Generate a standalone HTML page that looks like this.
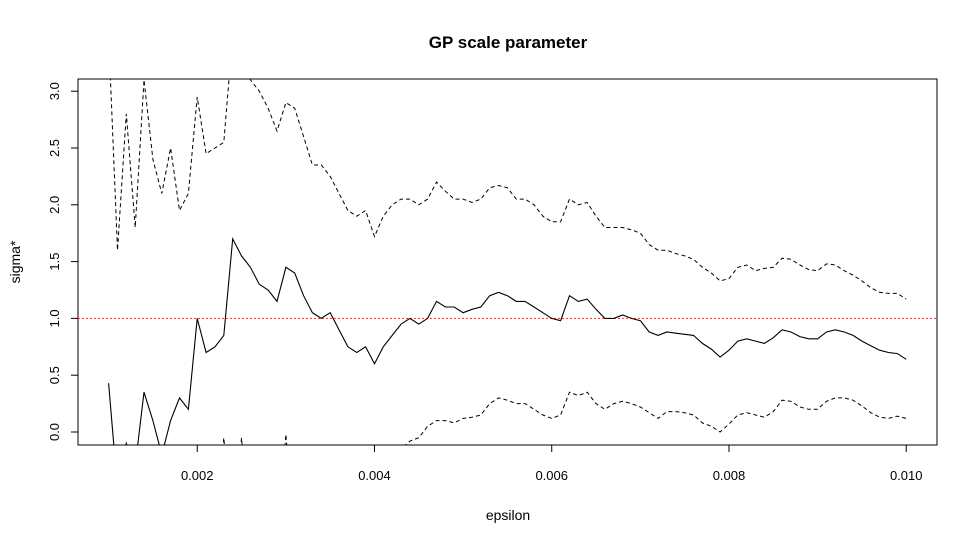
<!DOCTYPE html>
<html><head><meta charset="utf-8"><style>body{margin:0;background:#fff}svg{display:block;font-family:"Liberation Sans",sans-serif}</style></head>
<body>
<svg id="chart" width="978" height="544">
<defs><clipPath id="clip"><rect x="78" y="79" width="859" height="366"/></clipPath></defs>
<text x="508" y="48" text-anchor="middle" font-weight="bold" font-size="17">GP scale parameter</text>
<rect x="78" y="79" width="859" height="366" fill="none" stroke="#000"/>
<g id="xaxis"></g>
<g id="yaxis"></g>
<text x="508" y="520" text-anchor="middle" font-size="14">epsilon</text>
<text transform="translate(20,262) rotate(-90)" text-anchor="middle" font-size="14">sigma*</text>
<g id="series" clip-path="url(#clip)"></g>
</svg>
<script>
const xTicks=[0.002,0.004,0.006,0.008,0.010];
const xTickLabels=["0.002","0.004","0.006","0.008","0.010"];
const yTicks=[0,0.5,1,1.5,2,2.5,3];
const yTickLabels=["0.0","0.5","1.0","1.5","2.0","2.5","3.0"];
const epsStart=0.001, epsStep=0.0001;
const midValues=[0.43,-0.5,-0.1,-0.3,0.35,0.1,-0.2,0.1,0.3,0.2,1.0,0.7,0.75,0.85,1.7,1.55,1.45,1.3,1.25,1.15,1.45,1.4,1.2,1.05,1.0,1.05,0.9,0.75,0.7,0.75,0.6,0.75,0.85,0.95,1.0,0.95,1.0,1.15,1.1,1.1,1.05,1.08,1.1,1.2,1.23,1.2,1.15,1.15,1.1,1.05,1.0,0.98,1.2,1.15,1.17,1.08,1.0,1.0,1.03,1.0,0.98,0.88,0.85,0.88,0.87,0.86,0.85,0.78,0.73,0.66,0.72,0.8,0.82,0.8,0.78,0.83,0.9,0.88,0.84,0.82,0.82,0.88,0.9,0.88,0.85,0.8,0.76,0.72,0.7,0.69,0.64];
const upperValues=[3.5,1.6,2.8,1.8,3.1,2.4,2.1,2.5,1.95,2.1,2.95,2.45,2.5,2.55,3.5,3.4,3.1,3.0,2.85,2.65,2.9,2.85,2.6,2.35,2.35,2.25,2.1,1.95,1.9,1.95,1.72,1.9,2.0,2.05,2.05,2.0,2.05,2.2,2.12,2.05,2.05,2.02,2.05,2.15,2.17,2.15,2.05,2.05,2.0,1.9,1.85,1.85,2.05,2.0,2.02,1.9,1.8,1.8,1.8,1.78,1.75,1.65,1.6,1.6,1.57,1.55,1.52,1.45,1.4,1.33,1.35,1.45,1.47,1.42,1.44,1.45,1.53,1.52,1.47,1.43,1.42,1.48,1.47,1.42,1.38,1.33,1.27,1.23,1.22,1.22,1.17];
const lowerValues=[-1,-1,-1,-1,-1,-1,-1,-1,-1,-1,-1,-1,-1,-0.05,-1,-0.05,-1,-1,-1,-1,-0.02,-1,-1,-1,-1,-1,-1,-1,-1,-1,-1,-0.6,-0.4,-0.15,-0.08,-0.05,0.05,0.1,0.1,0.08,0.12,0.13,0.15,0.25,0.3,0.28,0.25,0.25,0.2,0.15,0.12,0.15,0.35,0.32,0.35,0.25,0.2,0.25,0.27,0.25,0.22,0.17,0.12,0.18,0.18,0.17,0.15,0.08,0.05,0.0,0.07,0.15,0.17,0.15,0.13,0.18,0.28,0.27,0.22,0.2,0.2,0.27,0.3,0.3,0.28,0.23,0.17,0.13,0.12,0.14,0.12];
const refValue=1.0;

const NS="http://www.w3.org/2000/svg";
const xs=e=>108.6+(e-0.001)/0.002*177.25;
const ys=v=>432-v*113.6;
function mk(tag,attrs,parent){const el=document.createElementNS(NS,tag);for(const k in attrs)el.setAttribute(k,attrs[k]);parent.appendChild(el);return el;}
const xa=document.getElementById('xaxis'),ya=document.getElementById('yaxis'),sg=document.getElementById('series');
mk('line',{x1:xs(xTicks[0]),x2:xs(xTicks[xTicks.length-1]),y1:445,y2:445,stroke:'#000'},xa);
xTicks.forEach((t,i)=>{
  const l=mk('line',{x1:xs(t),x2:xs(t),y1:445,y2:452,stroke:'#000'},xa);
  
  
  const tx=mk('text',{x:xs(t),y:480,'text-anchor':'middle','font-size':'13'},xa);
  tx.textContent=xTickLabels[i];
  
  
});
mk('line',{x1:78,x2:78,y1:ys(yTicks[0]),y2:ys(yTicks[yTicks.length-1]),stroke:'#000'},ya);
yTicks.forEach((t,i)=>{
  const l=mk('line',{x1:71,x2:78,y1:ys(t),y2:ys(t),stroke:'#000'},ya);
  
  
  const tx=mk('text',{transform:`translate(59,${ys(t)}) rotate(-90)`,'text-anchor':'middle','font-size':'13'},ya);
  tx.textContent=yTickLabels[i];
  
  
});
const ref=mk('line',{x1:78,x2:937,y1:ys(refValue),y2:ys(refValue),stroke:'#e05050','stroke-dasharray':'2,2','stroke-width':'1.1'},sg);


function path(vals){return vals.map((v,i)=>(i?'L':'M')+xs(epsStart+i*epsStep).toFixed(1)+','+ys(v).toFixed(1)).join('');}
const up=mk('path',{d:path(upperValues),fill:'none',stroke:'#000','stroke-dasharray':'4,3'},sg);


const lo=mk('path',{d:path(lowerValues),fill:'none',stroke:'#000','stroke-dasharray':'4,3'},sg);


const md=mk('path',{d:path(midValues),fill:'none',stroke:'#000','stroke-width':'1.1'},sg);


</script>
</body></html>
